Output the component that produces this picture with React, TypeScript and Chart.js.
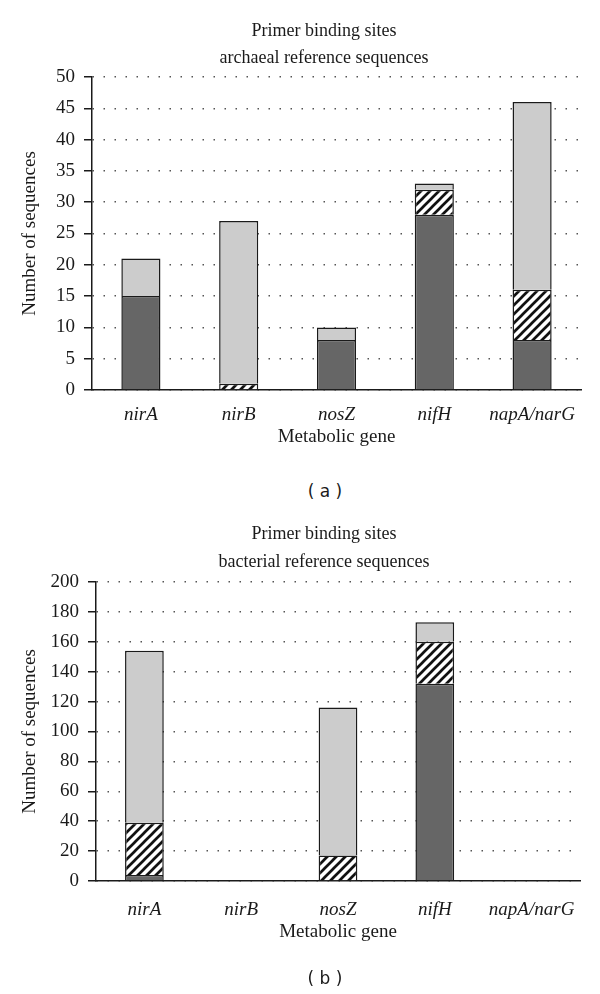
import React, { useEffect, useRef } from 'react';
import { Chart, registerables } from 'chart.js';

Chart.register(...registerables);

// ---------- data ----------
const categories = ['nirA', 'nirB', 'nosZ', 'nifH', 'napA/narG'];

const archaealTitle = ['Primer binding sites', 'archaeal reference sequences'];
const archaealDark = [15, null, 8, 28, 8];
const archaealHatched = [null, 1, null, 4, 8];
const archaealLight = [6, 26, 2, 1, 30];
const archaealYMax = 50;
const archaealYStep = 5;

const bacterialTitle = ['Primer binding sites', 'bacterial reference sequences'];
const bacterialDark = [4, null, null, 132, null];
const bacterialHatched = [35, null, 17, 28, null];
const bacterialLight = [115, null, 99, 13, null];
const bacterialYMax = 200;
const bacterialYStep = 20;

const xAxisTitle = 'Metabolic gene';
const yAxisTitle = 'Number of sequences';

// ---------- styles ----------
const SERIF = '"Liberation Serif", "Times New Roman", serif';
const INK = '#1a1a1a';
const FS = 19;
const TITLE_FS = 18;

function makeHatch(): CanvasPattern | string {
  const s = 9;
  const c = document.createElement('canvas');
  c.width = s;
  c.height = s;
  const g = c.getContext('2d');
  if (!g) return '#ffffff';
  g.fillStyle = '#ffffff';
  g.fillRect(0, 0, s, s);
  g.strokeStyle = '#111111';
  g.lineWidth = 2.7;
  g.lineCap = 'square';
  g.beginPath();
  g.moveTo(-2, s + 2);
  g.lineTo(s + 2, -2);
  g.moveTo(-2, 2);
  g.lineTo(2, -2);
  g.moveTo(s - 2, s + 2);
  g.lineTo(s + 2, s - 2);
  g.stroke();
  return g.createPattern(c, 'repeat') || '#ffffff';
}

const twoLineTitle = {
  id: 'twoLineTitle',
  afterDraw(chart: any, _args: any, opts: any) {
    const ctx = chart.ctx as CanvasRenderingContext2D;
    ctx.save();
    ctx.font = `normal ${TITLE_FS}px ${SERIF}`;
    ctx.fillStyle = INK;
    ctx.textAlign = 'center';
    ctx.textBaseline = 'middle';
    (opts.lines as string[]).forEach((line, i) => {
      ctx.fillText(line, opts.x, opts.y + i * opts.lh);
    });
    ctx.restore();
  },
};

interface PanelProps {
  top: number;
  height: number;
  title: string[];
  dark: (number | null)[];
  hatched: (number | null)[];
  light: (number | null)[];
  yMax: number;
  yStep: number;
  yAxisWidth: number;
  padTop: number;
  padRight: number;
  padBottom: number;
  titleX: number;
  titleY: number;
  titleLineHeight: number;
  xTickPad: number;
  xAxisHeight: number;
}

function Panel(p: PanelProps) {
  const ref = useRef<HTMLCanvasElement | null>(null);
  useEffect(() => {
    if (!ref.current) return;
    const hatch = makeHatch();
    const common = {
      borderColor: INK,
      borderWidth: 1.5,
      stack: 's',
    };
    const chart = new Chart(ref.current, {
      type: 'bar',
      data: {
        labels: categories,
        datasets: [
          { label: 'dark', data: p.dark, backgroundColor: '#666666', ...common },
          { label: 'hatched', data: p.hatched, backgroundColor: hatch, ...common },
          { label: 'light', data: p.light, backgroundColor: '#cccccc', ...common },
        ] as any,
      },
      plugins: [twoLineTitle as any],
      options: {
        responsive: false,
        animation: false,
        layout: { padding: { left: 0, right: p.padRight, top: p.padTop, bottom: p.padBottom } },
        datasets: { bar: { categoryPercentage: 1, barPercentage: 0.4 } },
        plugins: {
          legend: { display: false },
          tooltip: { enabled: false },
          title: { display: false },
          twoLineTitle: { lines: p.title, x: p.titleX, y: p.titleY, lh: p.titleLineHeight },
        },
        scales: {
          x: {
            stacked: true,
            grid: { display: false },
            border: { display: true, color: INK, width: 1.5 },
            ticks: {
              color: INK,
              font: { family: SERIF, size: FS, style: 'italic' },
              padding: p.xTickPad,
              maxRotation: 0,
              autoSkip: false,
            },
            title: {
              display: true,
              text: xAxisTitle,
              color: INK,
              font: { family: SERIF, size: FS },
              padding: { top: 0, bottom: 0 },
            },
            afterFit: (s: any) => {
              s.height = p.xAxisHeight;
            },
          },
          y: {
            stacked: true,
            min: 0,
            max: p.yMax,
            ticks: {
              stepSize: p.yStep,
              color: INK,
              font: { family: SERIF, size: FS },
              padding: 9,
            },
            grid: {
              color: '#555555',
              lineWidth: 1.5,
              tickLength: 8,
              tickColor: INK,
              tickWidth: 1.5,
              tickBorderDash: [],
            },
            border: { display: true, color: INK, width: 1.5, dash: [1.5, 9.5] },
            title: {
              display: true,
              text: yAxisTitle,
              color: INK,
              font: { family: SERIF, size: FS },
              padding: { top: 18.6, bottom: 0 },
            },
            afterFit: (s: any) => {
              s.width = p.yAxisWidth;
            },
          },
        },
      } as any,
    });
    return () => chart.destroy();
  }, []);
  return (
    <canvas
      ref={ref}
      width={600}
      height={p.height}
      style={{ position: 'absolute', left: 0, top: p.top, width: 600, height: p.height }}
    />
  );
}

const captionStyle = (top: number): React.CSSProperties => ({
  position: 'absolute',
  left: 25,
  top,
  width: 600,
  height: 22,
  lineHeight: '22px',
  textAlign: 'center',
  fontFamily: '"DejaVu Sans", Verdana, sans-serif',
  fontSize: 17,
  color: INK,
  whiteSpace: 'pre',
});

export default function App() {
  return (
    <div style={{ position: 'absolute', left: 0, top: 0, width: 600, height: 994, background: '#ffffff', overflow: 'hidden' }}>
      <Panel
        top={0}
        height={460}
        title={archaealTitle}
        dark={archaealDark}
        hatched={archaealHatched}
        light={archaealLight}
        yMax={archaealYMax}
        yStep={archaealYStep}
        yAxisWidth={92}
        padTop={77}
        padRight={19}
        padBottom={11.6}
        titleX={324}
        titleY={31}
        titleLineHeight={27}
        xTickPad={5.6}
        xAxisHeight={58.4}
      />
      <div style={captionStyle(480)}>{'( a )'}</div>
      <Panel
        top={500}
        height={494}
        title={bacterialTitle}
        dark={bacterialDark}
        hatched={bacterialHatched}
        light={bacterialLight}
        yMax={bacterialYMax}
        yStep={bacterialYStep}
        yAxisWidth={96}
        padTop={82}
        padRight={20}
        padBottom={50.6}
        titleX={324}
        titleY={34}
        titleLineHeight={28}
        xTickPad={9.6}
        xAxisHeight={62.4}
      />
      <div style={captionStyle(967)}>{'( b )'}</div>
    </div>
  );
}
